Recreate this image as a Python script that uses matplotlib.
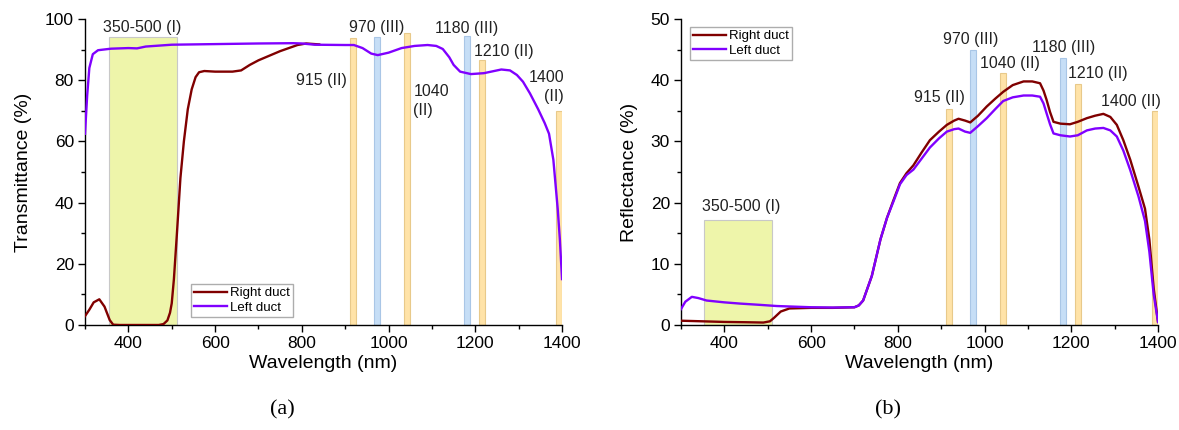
import matplotlib.pyplot as plt
from matplotlib.ticker import MultipleLocator

plt.rcParams["font.family"] = ["Liberation Sans", "DejaVu Sans"]

# panel (a): transmittance
wl_t_right = [300, 310, 320, 333, 345, 357, 365, 380, 420, 470, 481, 490, 496, 500, 505,
              512, 520, 528, 537, 546, 555, 563, 575, 600, 640, 660, 680, 700, 750, 790,
              810, 840]
t_right = [2.9, 5.0, 7.4, 8.4, 6.0, 1.6, 0.1, 0.0, 0.0, 0.0, 0.3, 1.5, 4.0, 7.1, 15.0,
           30.0, 48.0, 60.0, 70.5, 77.0, 81.0, 82.6, 83.0, 82.8, 82.8, 83.2, 85.0, 86.5, 89.5, 91.5,
           92.0, 91.7]

wl_t_left = [300, 305, 310, 318, 330, 360, 400, 420, 440, 500, 600, 700, 780, 800, 830,
             900, 920, 940, 960, 975, 1000, 1030, 1060, 1090, 1110, 1125, 1140, 1150, 1165, 1190,
             1220, 1260, 1280, 1296, 1310, 1326, 1345, 1360, 1370, 1380, 1390, 1395, 1400]
t_left = [62.5, 75.0, 84.0, 88.5, 89.8, 90.3, 90.5, 90.4, 91.0, 91.6, 91.8, 92.0, 92.1, 92.0, 91.6,
          91.5, 91.5, 90.5, 88.7, 88.2, 89.0, 90.5, 91.2, 91.5, 91.2, 90.2, 87.5, 85.0, 82.8, 82.0,
          82.3, 83.5, 83.2, 81.7, 79.5, 75.7, 70.5, 66.0, 62.5, 54.0, 38.0, 28.0, 15.0]

# panel (b): reflectance
wl_r_right = [300, 350, 400, 450, 490, 505, 515, 530, 550, 600, 650, 700, 710, 720, 740,
              760, 775, 790, 805, 820, 836, 855, 874, 895, 913, 930, 940, 955, 967, 985,
              1005, 1025, 1043, 1065, 1090, 1110, 1128, 1136, 1143, 1151, 1159, 1175, 1197, 1215, 1236,
              1255, 1274, 1290, 1305, 1320, 1336, 1355, 1370, 1380, 1390, 1400]
r_right = [0.7, 0.6, 0.5, 0.45, 0.4, 0.6, 1.2, 2.2, 2.7, 2.8, 2.8, 2.9, 3.2, 4.0, 8.0,
           14.0, 17.5, 20.4, 23.2, 24.8, 26.1, 28.2, 30.2, 31.6, 32.7, 33.4, 33.7, 33.4, 33.1, 34.2,
           35.7, 37.0, 38.1, 39.2, 39.8, 39.8, 39.5, 38.3, 36.8, 34.8, 33.2, 32.9, 32.8, 33.2, 33.8,
           34.2, 34.5, 34.0, 32.7, 30.2, 27.0, 22.6, 19.0, 14.0, 6.0, 0.5]

wl_r_left = [300, 310, 325, 340, 359, 400, 436, 480, 521, 560, 600, 650, 700, 710, 720,
             740, 760, 775, 790, 805, 820, 836, 855, 874, 895, 913, 930, 940, 955, 967,
             985, 1005, 1025, 1043, 1065, 1090, 1110, 1128, 1136, 1143, 1151, 1159, 1175, 1197, 1215,
             1236, 1255, 1274, 1290, 1305, 1320, 1336, 1355, 1370, 1380, 1390, 1400]
r_left = [2.6, 3.8, 4.6, 4.4, 4.0, 3.7, 3.5, 3.3, 3.1, 3.0, 2.9, 2.85, 2.9, 3.2, 4.0,
          8.0, 14.0, 17.5, 20.2, 23.0, 24.5, 25.4, 27.2, 29.0, 30.5, 31.6, 32.0, 32.1, 31.6, 31.4,
          32.5, 33.8, 35.3, 36.6, 37.2, 37.5, 37.5, 37.3, 36.2, 34.6, 32.8, 31.3, 31.0, 30.8, 31.0,
          31.8, 32.1, 32.2, 31.8, 30.8, 28.5, 25.3, 21.0, 17.0, 12.0, 5.0, 0.5]

# absorption band markers
band_x = [918, 973, 1043, 1181, 1216, 1393]
band_kind = ["II", "III", "II", "III", "II", "II"]
band_h_a = [93.9, 94.2, 95.3, 94.4, 86.6, 69.9]
band_h_b = [35.3, 45.0, 41.2, 43.6, 39.4, 34.9]
box_a = (355, 512, 94.0)
box_b = (353, 511, 17.2)

# labels: (text, x, y, ha)
labels_a = [("350-500 (I)", 431, 97.3, "center"), ("970 (III)", 972, 97.3, "center"),
            ("1180 (III)", 1180, 96.9, "center"), ("1210 (II)", 1265, 89.3, "center"),
            ("915 (II)", 845, 80.0, "center"), ("1040\n(II)", 1057, 73.3, "left"),
            ("1400\n(II)", 1405, 77.7, "right")]
labels_b = [("350-500 (I)", 438, 19.3, "center"), ("915 (II)", 895, 37.1, "center"),
            ("970 (III)", 968, 46.6, "center"), ("1040 (II)", 1058, 42.8, "center"),
            ("1180 (III)", 1182, 45.3, "center"), ("1210 (II)", 1262, 41.1, "center"),
            ("1400 (II)", 1337, 36.6, "center")]

RED = "#800000"
PURPLE = "#8000FF"
BAND_COL = {"II": ("#FFE3A8", "#E8C98A"), "III": ("#C6DEF6", "#A9C6E6")}

fig = plt.figure(figsize=(11.79, 4.30), dpi=100)
ax_a = fig.add_axes([0.0721, 0.2442, 0.4046, 0.7116])
ax_b = fig.add_axes([0.5776, 0.2442, 0.4046, 0.7116])


def draw_panel(ax, heights, box, labels, ymax, major, minor):
    ax.bar(box[0], box[2], width=box[1] - box[0], align="edge", color="#EEF5AA",
           edgecolor="#C8C8C8", linewidth=0.8, zorder=1)
    for x, k, h in zip(band_x, band_kind, heights):
        fc, ec = BAND_COL[k]
        ax.bar(x, h, width=13, color=fc, edgecolor=ec, linewidth=0.8, zorder=1)
    for text, x, y, ha in labels:
        ax.text(x, y, text, ha=ha, va="center", fontsize=11.5, color="#222222",
                linespacing=1.3, zorder=5)
    ax.set_xlim(300, 1400)
    ax.set_ylim(0, ymax)
    ax.xaxis.set_major_locator(MultipleLocator(200))
    ax.xaxis.set_minor_locator(MultipleLocator(100))
    ax.yaxis.set_major_locator(MultipleLocator(major))
    ax.yaxis.set_minor_locator(MultipleLocator(minor))
    for s in ["top", "right"]:
        ax.spines[s].set_visible(False)
    for s in ["left", "bottom"]:
        ax.spines[s].set_linewidth(1.0)
    ax.tick_params(which="major", direction="out", length=5, width=1.0, labelsize=12.5, pad=3)
    ax.tick_params(which="minor", direction="out", length=3, width=1.0)
    ax.set_xlabel("Wavelength (nm)", fontsize=14, labelpad=3)


draw_panel(ax_a, band_h_a, box_a, labels_a, 100, 20, 10)
ax_a.plot(wl_t_right, t_right, color=RED, lw=1.7, label="Right duct", zorder=3)
ax_a.plot(wl_t_left, t_left, color=PURPLE, lw=1.7, label="Left duct", zorder=4)
ax_a.set_ylabel("Transmittance (%)", fontsize=14, labelpad=9)
ax_a.legend(loc="lower left", bbox_to_anchor=(0.222, 0.025), fontsize=9.5, frameon=True,
            fancybox=False, edgecolor="#999999", handlelength=2.5, borderpad=0.25,
            labelspacing=0.2, handletextpad=0.2, borderaxespad=0)

draw_panel(ax_b, band_h_b, box_b, labels_b, 50, 10, 5)
ax_b.plot(wl_r_right, r_right, color=RED, lw=1.7, label="Right duct", zorder=3)
ax_b.plot(wl_r_left, r_left, color=PURPLE, lw=1.7, label="Left duct", zorder=4)
ax_b.set_ylabel("Reflectance (%)", fontsize=14, labelpad=9)
ax_b.legend(loc="upper left", bbox_to_anchor=(0.019, 0.975), fontsize=9.5, frameon=True,
            fancybox=False, edgecolor="#999999", handlelength=2.5, borderpad=0.25,
            labelspacing=0.2, handletextpad=0.2, borderaxespad=0)

fig.text(282 / 1179, 1 - 410 / 430, "(a)", ha="center", va="center", fontsize=16,
         family=["Liberation Serif", "DejaVu Serif"])
fig.text(888 / 1179, 1 - 410 / 430, "(b)", ha="center", va="center", fontsize=16,
         family=["Liberation Serif", "DejaVu Serif"])

fig.savefig("out.png", dpi=100)
